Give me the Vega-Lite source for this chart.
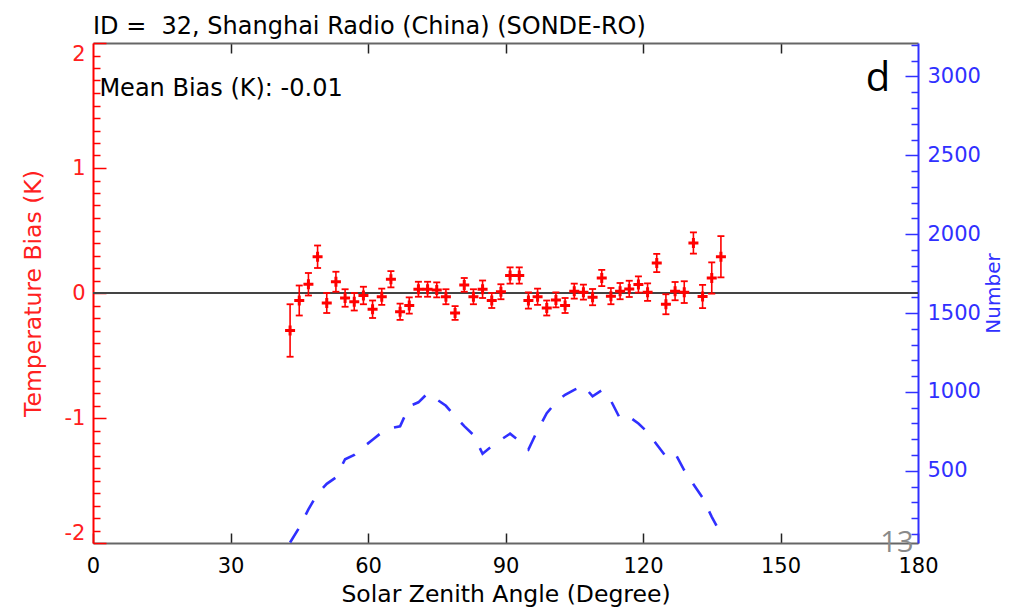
{
  "$schema": "https://vega.github.io/schema/vega-lite/v6.json",
  "width": 825,
  "height": 500,
  "autosize": "none",
  "padding": {"left": 93, "top": 43, "right": 93, "bottom": 66},
  "background": "white",
  "config": {"view": {"stroke": null}, "font": "DejaVu Sans"},
  "title": {
    "text": "ID =\u00a0 32, Shanghai Radio (China) (SONDE-RO)",
    "anchor": "start",
    "frame": "group",
    "baseline": "alphabetic",
    "offset": 11,
    "dy": 27,
    "font": "DejaVu Sans",
    "fontSize": 24,
    "fontWeight": "normal",
    "color": "#000000"
  },
  "datasets": {
    "bias": [
      {"sza": 43, "bias": -0.30, "lo": -0.51, "hi": -0.09},
      {"sza": 45, "bias": -0.06, "lo": -0.18, "hi": 0.06},
      {"sza": 47, "bias": 0.07, "lo": -0.02, "hi": 0.16},
      {"sza": 49, "bias": 0.29, "lo": 0.20, "hi": 0.38},
      {"sza": 51, "bias": -0.08, "lo": -0.16, "hi": 0.00},
      {"sza": 53, "bias": 0.09, "lo": 0.01, "hi": 0.17},
      {"sza": 55, "bias": -0.04, "lo": -0.11, "hi": 0.03},
      {"sza": 57, "bias": -0.07, "lo": -0.14, "hi": 0.00},
      {"sza": 59, "bias": -0.02, "lo": -0.09, "hi": 0.05},
      {"sza": 61, "bias": -0.13, "lo": -0.20, "hi": -0.06},
      {"sza": 63, "bias": -0.03, "lo": -0.095, "hi": 0.035},
      {"sza": 65, "bias": 0.11, "lo": 0.045, "hi": 0.175},
      {"sza": 67, "bias": -0.15, "lo": -0.215, "hi": -0.085},
      {"sza": 69, "bias": -0.10, "lo": -0.165, "hi": -0.035},
      {"sza": 71, "bias": 0.03, "lo": -0.03, "hi": 0.09},
      {"sza": 73, "bias": 0.03, "lo": -0.03, "hi": 0.09},
      {"sza": 75, "bias": 0.025, "lo": -0.035, "hi": 0.085},
      {"sza": 77, "bias": -0.03, "lo": -0.09, "hi": 0.03},
      {"sza": 79, "bias": -0.16, "lo": -0.215, "hi": -0.105},
      {"sza": 81, "bias": 0.065, "lo": 0.01, "hi": 0.12},
      {"sza": 83, "bias": -0.03, "lo": -0.09, "hi": 0.03},
      {"sza": 85, "bias": 0.03, "lo": -0.04, "hi": 0.10},
      {"sza": 87, "bias": -0.06, "lo": -0.12, "hi": 0.00},
      {"sza": 89, "bias": 0.01, "lo": -0.05, "hi": 0.07},
      {"sza": 91, "bias": 0.14, "lo": 0.075, "hi": 0.205},
      {"sza": 93, "bias": 0.14, "lo": 0.075, "hi": 0.205},
      {"sza": 95, "bias": -0.06, "lo": -0.125, "hi": 0.005},
      {"sza": 97, "bias": -0.03, "lo": -0.095, "hi": 0.035},
      {"sza": 99, "bias": -0.12, "lo": -0.18, "hi": -0.06},
      {"sza": 101, "bias": -0.055, "lo": -0.115, "hi": 0.005},
      {"sza": 103, "bias": -0.10, "lo": -0.16, "hi": -0.04},
      {"sza": 105, "bias": 0.015, "lo": -0.045, "hi": 0.075},
      {"sza": 107, "bias": 0.007, "lo": -0.053, "hi": 0.067},
      {"sza": 109, "bias": -0.033, "lo": -0.098, "hi": 0.032},
      {"sza": 111, "bias": 0.12, "lo": 0.055, "hi": 0.185},
      {"sza": 113, "bias": -0.025, "lo": -0.09, "hi": 0.04},
      {"sza": 115, "bias": 0.015, "lo": -0.05, "hi": 0.08},
      {"sza": 117, "bias": 0.033, "lo": -0.032, "hi": 0.098},
      {"sza": 119, "bias": 0.068, "lo": 0.003, "hi": 0.133},
      {"sza": 121, "bias": 0.007, "lo": -0.063, "hi": 0.077},
      {"sza": 123, "bias": 0.24, "lo": 0.167, "hi": 0.313},
      {"sza": 125, "bias": -0.09, "lo": -0.17, "hi": -0.01},
      {"sza": 127, "bias": 0.015, "lo": -0.058, "hi": 0.088},
      {"sza": 129, "bias": 0.007, "lo": -0.08, "hi": 0.094},
      {"sza": 131, "bias": 0.40, "lo": 0.315, "hi": 0.485},
      {"sza": 133, "bias": -0.028, "lo": -0.121, "hi": 0.065},
      {"sza": 135, "bias": 0.12, "lo": -0.005, "hi": 0.245},
      {"sza": 137, "bias": 0.29, "lo": 0.125, "hi": 0.455}
    ],
    "counts": [
      {"sza": 43, "n": 45},
      {"sza": 45, "n": 140},
      {"sza": 47, "n": 255},
      {"sza": 49, "n": 355},
      {"sza": 51, "n": 417},
      {"sza": 53, "n": 458},
      {"sza": 55, "n": 573},
      {"sza": 57, "n": 600},
      {"sza": 59, "n": 650},
      {"sza": 61, "n": 697},
      {"sza": 63, "n": 743},
      {"sza": 65, "n": 770},
      {"sza": 67, "n": 782},
      {"sza": 69, "n": 909},
      {"sza": 71, "n": 934},
      {"sza": 73, "n": 991},
      {"sza": 75, "n": 953},
      {"sza": 77, "n": 912},
      {"sza": 79, "n": 845},
      {"sza": 81, "n": 783},
      {"sza": 83, "n": 727},
      {"sza": 85, "n": 608},
      {"sza": 87, "n": 655},
      {"sza": 89, "n": 697},
      {"sza": 91, "n": 735},
      {"sza": 93, "n": 690},
      {"sza": 95, "n": 635},
      {"sza": 97, "n": 757},
      {"sza": 99, "n": 865},
      {"sza": 101, "n": 934},
      {"sza": 103, "n": 982},
      {"sza": 105, "n": 1013},
      {"sza": 107, "n": 1039},
      {"sza": 109, "n": 972},
      {"sza": 111, "n": 1010},
      {"sza": 113, "n": 944},
      {"sza": 115, "n": 830},
      {"sza": 117, "n": 842},
      {"sza": 119, "n": 800},
      {"sza": 121, "n": 744},
      {"sza": 123, "n": 666},
      {"sza": 125, "n": 590},
      {"sza": 127, "n": 612},
      {"sza": 129, "n": 503},
      {"sza": 131, "n": 414},
      {"sza": 133, "n": 329},
      {"sza": 135, "n": 208},
      {"sza": 137, "n": 100}
    ]
  },
  "layer": [
    {
      "data": {"name": "bias"},
      "layer": [
        {
          "data": {"values": [{"ref": 0}]},
          "mark": {"type": "rule", "color": "#444444", "strokeWidth": 2},
          "encoding": {
            "y": {"field": "ref", "type": "quantitative", "scale": {"domain": [-2, 2], "nice": false, "zero": false}, "axis": null}
          }
        },
        {
          "mark": {"type": "rule", "color": "#ff0000", "strokeWidth": 1.6},
          "encoding": {
            "x": {
              "field": "sza",
              "type": "quantitative",
              "scale": {"domain": [0, 180], "nice": false},
              "axis": {
                "orient": "bottom",
                "values": [0, 30, 60, 90, 120, 150, 180],
                "title": "Solar Zenith Angle (Degree)",
                "titleFont": "DejaVu Sans",
                "titleFontSize": 23.5,
                "titleFontWeight": "normal",
                "titleColor": "#000000",
                "titlePadding": 6,
                "labelFont": "DejaVu Sans",
                "labelFontSize": 21,
                "labelColor": "#000000",
                "labelPadding": 22,
                "labelFlush": false,
                "labelOverlap": false,
                "tickSize": -10,
                "tickColor": "#222222",
                "tickWidth": 1.5,
                "domainColor": "#666666",
                "domainWidth": 2,
                "grid": false
              }
            },
            "y": {
              "field": "lo",
              "type": "quantitative",
              "scale": {"domain": [-2, 2], "nice": false, "zero": false},
              "axis": {
                "orient": "left",
                "values": [-2, -1, 0, 1, 2],
                "labelExpr": "'' + datum.value",
                "tickSize": -13,
                "tickColor": "#ff0000",
                "tickWidth": 1.5,
                "domainColor": "#ff0000",
                "domainWidth": 2,
                "labelColor": "#ff2020",
                "labelFont": "DejaVu Sans",
                "labelFontSize": 21,
                "labelPadding": 21,
                "labelFlush": true,
                "labelOverlap": false,
                "title": "Temperature Bias (K)",
                "titleColor": "#ff2020",
                "titleFont": "DejaVu Sans",
                "titleFontSize": 23.5,
                "titleFontWeight": "normal",
                "titlePadding": 19,
                "grid": false
              }
            },
            "y2": {"field": "hi"}
          }
        },
        {
          "mark": {"type": "point", "shape": "M-1,0H1", "size": 49, "strokeWidth": 1.8, "color": "#ff0000", "opacity": 1},
          "encoding": {
            "x": {
              "field": "sza",
              "type": "quantitative",
              "axis": {
                "orient": "top",
                "values": [30, 60, 90, 120, 150],
                "labels": false,
                "title": null,
                "tickSize": -10,
                "tickColor": "#222222",
                "tickWidth": 1.5,
                "domainColor": "#666666",
                "domainWidth": 2,
                "grid": false
              }
            },
            "y": {
              "field": "lo",
              "type": "quantitative",
              "axis": {
                "orient": "left",
                "values": [-1.9, -1.8, -1.7, -1.6, -1.5, -1.4, -1.3, -1.2, -1.1, -0.9, -0.8, -0.7, -0.6, -0.5, -0.4, -0.3, -0.2, -0.1, 0.1, 0.2, 0.3, 0.4, 0.5, 0.6, 0.7, 0.8, 0.9, 1.1, 1.2, 1.3, 1.4, 1.5, 1.6, 1.7, 1.8, 1.9],
                "labels": false,
                "domain": false,
                "title": null,
                "tickSize": -7,
                "tickColor": "#ff0000",
                "tickWidth": 1.5,
                "grid": false
              }
            }
          }
        },
        {
          "mark": {"type": "point", "shape": "M-1,0H1", "size": 49, "strokeWidth": 1.8, "color": "#ff0000", "opacity": 1},
          "encoding": {
            "x": {"field": "sza", "type": "quantitative", "axis": null},
            "y": {"field": "hi", "type": "quantitative", "axis": null}
          }
        },
        {
          "mark": {"type": "point", "shape": "M-1,0H1M0,-1V1", "size": 100, "strokeWidth": 3, "color": "#ff0000", "opacity": 1},
          "encoding": {
            "x": {"field": "sza", "type": "quantitative", "axis": null},
            "y": {"field": "bias", "type": "quantitative", "axis": null}
          }
        },
        {
          "data": {"values": [{"note": "Mean Bias (K): -0.01"}]},
          "mark": {"type": "text", "align": "left", "baseline": "alphabetic", "font": "DejaVu Sans", "fontSize": 24, "color": "#000000"},
          "encoding": {
            "x": {"datum": 1.4, "type": "quantitative", "axis": null},
            "y": {"datum": 1.573, "type": "quantitative", "axis": null},
            "text": {"field": "note"}
          }
        },
        {
          "data": {"values": [{"note": "d"}]},
          "mark": {"type": "text", "align": "left", "baseline": "alphabetic", "font": "Open Sans", "fontSize": 40, "color": "#000000"},
          "encoding": {
            "x": {"datum": 168.6, "type": "quantitative", "axis": null},
            "y": {"datum": 1.613, "type": "quantitative", "axis": null},
            "text": {"field": "note"}
          }
        },
        {
          "data": {"values": [{"note": "13"}]},
          "mark": {"type": "text", "align": "center", "baseline": "alphabetic", "font": "Open Sans", "fontSize": 29, "color": "#8a8a8a"},
          "encoding": {
            "x": {"datum": 175.4, "type": "quantitative", "axis": null},
            "y": {"datum": -2.075, "type": "quantitative", "axis": null},
            "text": {"field": "note"}
          }
        }
      ],
      "resolve": {"axis": {"y": "independent"}}
    },
    {
      "data": {"name": "counts"},
      "layer": [
        {
          "mark": {"type": "line", "color": "#3030ff", "strokeWidth": 2.6, "strokeDash": [16, 16]},
          "encoding": {
            "x": {"field": "sza", "type": "quantitative", "axis": null},
            "y": {
              "field": "n",
              "type": "quantitative",
              "scale": {"domain": [42, 3212], "nice": false, "zero": false},
              "axis": {
                "orient": "right",
                "values": [500, 1000, 1500, 2000, 2500, 3000],
                "format": "d",
                "tickSize": -13,
                "tickColor": "#3030ff",
                "tickWidth": 1.5,
                "domainColor": "#3030ff",
                "domainWidth": 2,
                "labelColor": "#3030ff",
                "labelFont": "DejaVu Sans",
                "labelFontSize": 21,
                "labelPadding": 22,
                "labelFlush": false,
                "labelOverlap": false,
                "title": "Number",
                "titleAngle": 270,
                "titleColor": "#3030ff",
                "titleFont": "DejaVu Sans",
                "titleFontSize": 20,
                "titleFontWeight": "normal",
                "titlePadding": 23,
                "grid": false
              }
            }
          }
        },
        {
          "mark": {"type": "point", "opacity": 0},
          "encoding": {
            "x": {"field": "sza", "type": "quantitative", "axis": null},
            "y": {
              "field": "n",
              "type": "quantitative",
              "scale": {"domain": [42, 3212], "nice": false, "zero": false},
              "axis": {
                "orient": "right",
                "values": [100, 200, 300, 400, 600, 700, 800, 900, 1100, 1200, 1300, 1400, 1600, 1700, 1800, 1900, 2100, 2200, 2300, 2400, 2600, 2700, 2800, 2900, 3100, 3200],
                "labels": false,
                "domain": false,
                "title": null,
                "tickSize": -7,
                "tickColor": "#3030ff",
                "tickWidth": 1.5,
                "grid": false
              }
            }
          }
        }
      ],
      "resolve": {"axis": {"y": "independent"}}
    }
  ],
  "resolve": {"scale": {"y": "independent"}}
}
